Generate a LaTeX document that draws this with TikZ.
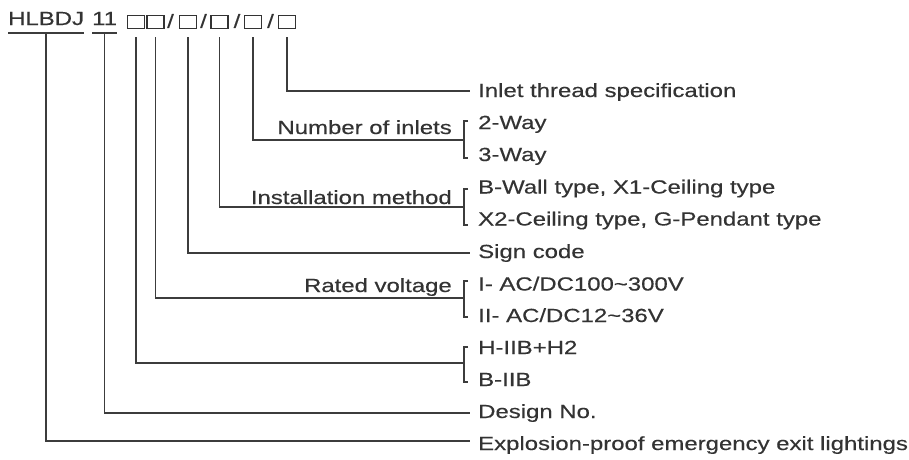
\documentclass[tikz,border=0pt]{standalone}
\usepackage{fontspec}
\setmainfont[FakeStretch=1.26,FakeBold=0.4]{Liberation Sans}
\definecolor{ink}{HTML}{333333}
\definecolor{lnc}{HTML}{3c3c3c}
\tikzset{
  txt/.style={font=\fontsize{19}{22}\selectfont, text=ink, inner sep=0pt},
  conn/.style={draw=lnc, line width=1.4pt},
  boxmark/.style={draw=ink, line width=1.3pt, minimum width=17pt, minimum height=13pt, inner sep=0pt},
}
\begin{document}
\begin{tikzpicture}[x=1pt,y=-1pt]
\useasboundingbox (0,0) rectangle (909,459);

% header
\node[txt, anchor=base west] (hl) at (8,25) {HLBDJ};
\node[txt, anchor=base west] (num) at (92,25) {11};
\draw[conn] ([yshift=-8pt]hl.base west) -- ([yshift=-8pt]hl.base east);
\draw[conn] ([yshift=-8pt]num.base west) -- ([yshift=-8pt]num.base east);

\node[boxmark] (b1) at (136,22) {};
\node[boxmark] (b2) at (155.5,22) {};
\node[txt] (s1) at (170.5,21) {/};
\node[boxmark] (b3) at (188,22) {};
\node[txt] (s2) at (203.5,21) {/};
\node[boxmark] (b4) at (219.5,22) {};
\node[txt] (s3) at (237,21) {/};
\node[boxmark] (b5) at (253,22) {};
\node[txt] (s4) at (270.5,21) {/};
\node[boxmark] (b6) at (287,22) {};

% right column texts
\node[txt, anchor=base west] (r1)  at (478,97)  {Inlet thread specification};
\node[txt, anchor=base west] (r2)  at (478,129) {2-Way};
\node[txt, anchor=base west] (r3)  at (478,161) {3-Way};
\node[txt, anchor=base west] (r4)  at (478,193.5) {B-Wall type, X1-Ceiling type};
\node[txt, anchor=base west] (r5)  at (478,225.5) {X2-Ceiling type, G-Pendant type};
\node[txt, anchor=base west] (r6)  at (478,258) {Sign code};
\node[txt, anchor=base west] (r7)  at (478,290.5) {I- AC/DC100\textasciitilde 300V};
\node[txt, anchor=base west] (r8)  at (478,322) {II- AC/DC12\textasciitilde 36V};
\node[txt, anchor=base west] (r9)  at (478,354) {H-IIB+H2};
\node[txt, anchor=base west] (r10) at (478,386) {B-IIB};
\node[txt, anchor=base west] (r11) at (478,418) {Design No.};
\node[txt, anchor=base west] (r12) at (478,450) {Explosion-proof emergency exit lightings};

% left labels
\node[txt, anchor=base east] (l1) at (452,134) {Number of inlets};
\node[txt, anchor=base east] (l2) at (452,204) {Installation method};
\node[txt, anchor=base east] (l3) at (452,292) {Rated voltage};

% line ends
\coordinate (e1) at (470,91);
\coordinate (k2) at (464,140);
\coordinate (k3) at (464,207);
\coordinate (e4) at (470,253);
\coordinate (k5) at (464,298);
\coordinate (k6) at (464,363);
\coordinate (e7) at (470,413);
\coordinate (e8) at (470,441);

% connectors
\draw[conn] ([yshift=-8pt]b6.south) |- (e1);
\draw[conn] ([yshift=-8pt]b5.south) |- (k2);
\draw[conn] ([yshift=-8pt]b4.south) |- (k3);
\draw[conn] ([yshift=-8pt]b3.south) |- (e4);
\draw[conn] ([yshift=-8pt]b2.south) |- (k5);
\draw[conn] ([yshift=-8pt]b1.south) |- (k6);
\draw[conn] ([yshift=-8pt]num.base) |- (e7);
\draw[conn] ([yshift=-8pt]hl.base) |- (e8);

% brackets
\draw[conn] (468,121) -- (464,121) -- (464,158) -- (468,158);
\draw[conn] (468,189) -- (464,189) -- (464,225) -- (468,225);
\draw[conn] (468,281) -- (464,281) -- (464,317) -- (468,317);
\draw[conn] (468,347) -- (464,347) -- (464,382) -- (468,382);
\end{tikzpicture}
\end{document}
